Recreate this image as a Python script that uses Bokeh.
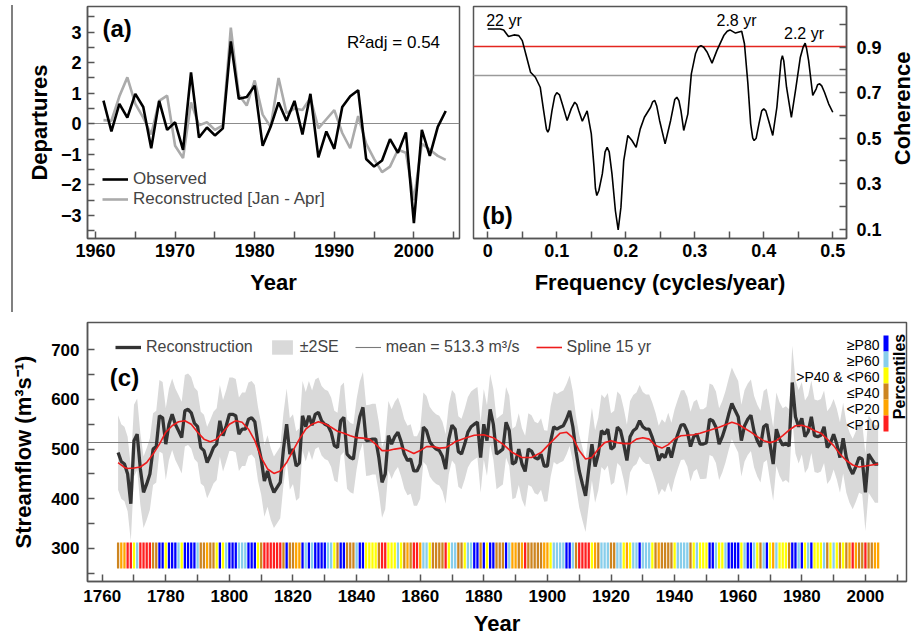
import math
import numpy as np
from bokeh.plotting import figure
from bokeh.models import FixedTicker, Legend, LegendItem, Label, BoxAnnotation, Div, Range1d
from bokeh.layouts import column, row
from bokeh.embed import file_html
from bokeh.resources import INLINE

FONT = "Liberation Sans"

# ---------------- panel (a) data ----------------
years_a = list(range(1961, 2005))
observed = [0.76, -0.25, 0.65, 0.2, 0.98, 0.55, -0.8, 0.75, -0.2, 0.05,
            -0.85, 1.68, -0.45, -0.12, -0.38, -0.15, 2.7, 0.82, 0.88, 1.25,
            -0.72, -0.1, 0.7, 0.1, 0.75, -0.35, 0.98, -1.1, -0.25, -0.82,
            0.55, 0.9, 1.1, -1.15, -1.4, -1.2, -0.5, -0.95, -0.28, -3.25,
            -0.2, -1.05, -0.1, 0.42]
reconstructed_a = [0.12, 0.1, 0.9, 1.52, 0.65, 0.2, -0.35, 0.75, 0.92, -0.72,
                   -1.12, 0.7, -0.05, 0.05, -0.2, -0.05, 3.15, 0.95, 0.6, 1.42,
                   0.3, -0.1, 1.5, 0.35, 0.5, 0.45, 0.85, -0.15, 0.15, 0.45,
                   -0.3, -0.8, 0.25, -0.65, -1.15, -1.58, -1.4, -0.85, -0.95, -2.5,
                   -0.65, -0.85, -1.05, -1.18]
r2_text = "R²adj = 0.54"

# ---------------- panel (b) data ----------------
freq = [0, 0.018, 0.023, 0.030, 0.038, 0.045, 0.050, 0.055, 0.062, 0.069,
        0.076, 0.081, 0.085, 0.087, 0.089, 0.093, 0.097, 0.100, 0.104, 0.108,
        0.115, 0.121, 0.126, 0.129, 0.132, 0.137, 0.144, 0.150, 0.154, 0.156,
        0.158, 0.161, 0.166, 0.170, 0.173, 0.176, 0.180, 0.185, 0.189, 0.193,
        0.197, 0.203, 0.209, 0.215, 0.221, 0.227, 0.236, 0.239, 0.242, 0.245,
        0.249, 0.257, 0.265, 0.271, 0.274, 0.277, 0.280, 0.284, 0.290, 0.295,
        0.301, 0.305, 0.309, 0.313, 0.318, 0.325, 0.332, 0.342, 0.347, 0.351,
        0.359, 0.368, 0.372, 0.377, 0.381, 0.384, 0.386, 0.389, 0.393, 0.397,
        0.400, 0.403, 0.407, 0.413, 0.419, 0.425, 0.427, 0.429, 0.433, 0.440,
        0.446, 0.453, 0.457, 0.460, 0.462, 0.465, 0.471, 0.476, 0.478, 0.481,
        0.484, 0.488, 0.494, 0.500]
coherence = [0.98, 0.98, 0.976, 0.947, 0.954, 0.951, 0.929, 0.871, 0.79, 0.768,
             0.724, 0.62, 0.54, 0.526, 0.54, 0.62, 0.685, 0.70, 0.69, 0.65,
             0.578, 0.63, 0.658, 0.648, 0.62, 0.575, 0.62, 0.52, 0.373, 0.28,
             0.248, 0.27, 0.343, 0.44, 0.46, 0.44, 0.343, 0.18, 0.097, 0.197,
             0.40, 0.512, 0.49, 0.46, 0.541, 0.592, 0.636, 0.66, 0.666, 0.64,
             0.578, 0.475, 0.578, 0.67, 0.68, 0.665, 0.62, 0.534, 0.607, 0.783,
             0.871, 0.90, 0.907, 0.90, 0.878, 0.83, 0.885, 0.951, 0.97, 0.976,
             0.962, 0.97, 0.915, 0.739, 0.563, 0.50, 0.49, 0.50, 0.563, 0.62,
             0.629, 0.62, 0.578, 0.512, 0.636, 0.84, 0.863, 0.84, 0.724, 0.592,
             0.71, 0.856, 0.90, 0.918, 0.895, 0.841, 0.688, 0.717, 0.735, 0.739,
             0.73, 0.702, 0.651, 0.614]
red_level = 0.905
gray_level = 0.776
peak_labels = ["22 yr", "2.8 yr", "2.2 yr"]

# ---------------- panel (c) data ----------------
recon = [493, 475, 470, 450, 390,
         517, 530, 460, 413, 430, 450, 500, 505, 567, 563,
         510, 550, 570, 550, 537, 523, 577, 580, 573, 552,
         545, 503, 497, 473, 487, 503, 510, 557, 527, 547,
         570, 570, 567, 530, 540, 540, 560, 563, 555, 510,
         480, 436, 456, 430, 413, 423, 433, 500, 550, 490,
         500, 466, 472, 567, 545, 567, 548, 570, 574, 557,
         550, 547, 534, 507, 503, 557, 564, 490, 483, 480,
         530, 565, 584, 517, 518, 520, 520, 483, 433, 450,
         527, 510, 525, 534, 515, 490, 477, 480, 456, 456,
         470, 544, 537, 515, 506, 500, 497, 485, 460, 520,
         548, 540, 495, 490, 510, 534, 545, 550, 554, 483,
         550, 517, 580, 550, 490, 495, 500, 554, 537, 470,
         474, 500, 470, 455, 500, 496, 483, 480, 490, 466,
         466, 515, 545, 540, 544, 547, 560, 577, 545, 495,
         456, 430, 406, 460, 510, 465, 490, 537, 530, 540,
         500, 505, 544, 537, 510, 477, 525, 537, 542, 557,
         545, 540, 540, 523, 503, 477, 490, 483, 503, 483,
         510, 530, 548, 549, 535, 505, 525, 530, 510, 510,
         513, 560, 557, 544, 510, 525, 545, 570, 592, 578,
         565, 517, 547, 560, 568, 535, 517, 505, 545, 550,
         510, 470, 540, 520, 508, 512, 506, 634, 565, 545,
         562, 525, 535, 565, 527, 525, 528, 545, 503, 512,
         530, 510, 483, 522, 483, 463, 450, 465, 483, 480,
         413, 490, 480, 470, 470]
recon_start = 1765
years_c = list(range(recon_start, recon_start + len(recon)))
# 2SE half-width of the band, one value per decade (1760s ... 2000s)
two_se_by_decade = [75, 72, 72, 72, 74, 72, 70, 70, 71, 70, 70, 71, 71,
                    72, 71, 73, 72, 70, 70, 72, 72, 74, 73, 71, 78]
spline_years = [1765, 1767, 1768, 1770, 1772, 1774, 1776, 1778, 1780, 1782, 1784, 1786,
                1788, 1790, 1792, 1794, 1796, 1798, 1800, 1802, 1804, 1806, 1808, 1810,
                1812, 1814, 1816, 1818, 1820, 1822, 1824, 1826, 1828, 1830, 1832, 1834,
                1836, 1838, 1840, 1842, 1844, 1846, 1848, 1850, 1852, 1854, 1856, 1858,
                1860, 1862, 1864, 1866, 1868, 1870, 1871, 1874, 1877, 1880, 1883, 1886,
                1889, 1892, 1895, 1898, 1901, 1904, 1906, 1908, 1910, 1912, 1914, 1916,
                1918, 1920, 1922, 1924, 1926, 1928, 1930, 1932, 1934, 1936, 1938, 1940,
                1942, 1944, 1946, 1948, 1950, 1952, 1954, 1956, 1958, 1960, 1962, 1964,
                1966, 1968, 1970, 1972, 1974, 1976, 1978, 1980, 1982, 1984, 1986, 1988,
                1990, 1992, 1994, 1996, 1998, 2000, 2002, 2004]
spline_vals = [473, 463, 461, 462, 464, 473, 490, 510, 534, 547, 555, 557,
               550, 534, 520, 515, 520, 534, 550, 557, 554, 540, 517, 483,
               460, 451, 456, 473, 497, 520, 540, 550, 555, 551, 544, 536,
               532, 527, 523, 522, 520, 510, 497, 497, 500, 502, 497, 491,
               497, 505, 505, 502, 503, 510, 515, 522, 528, 529, 523, 510,
               493, 483, 483, 493, 513, 532, 534, 523, 497, 480, 483, 500,
               513, 517, 513, 511, 511, 520, 523, 520, 507, 502, 509, 521,
               527, 528, 529, 532, 536, 540, 544, 549, 554, 550, 542, 534,
               525, 517, 513, 517, 527, 538, 547, 548, 544, 537, 532, 520,
               507, 490, 477, 468, 464, 466, 468, 470]
mean_flow = 513.3
pct_labels = ["≥P80", "≥P60", ">P40 & <P60", "≤P40", "<P20", "<P10"]
pct_colors = ["#0000ff", "#87ceeb", "#ffff00", "#cd8520", "#ffa500", "#ff1f1f"]

# ---------------- helpers ----------------
def mapper(x0, x1, y0, y1, L, R, T, B):
    fx = lambda px: x0 + (px - L) / (R - L) * (x1 - x0)
    fy = lambda py: y1 - (py - T) / (B - T) * (y1 - y0)
    return fx, fy


def style(p, tick_font):
    p.outline_line_color = "#555555"
    p.outline_line_width = 1.5
    p.xgrid.grid_line_color = None
    p.ygrid.grid_line_color = None
    p.background_fill_color = "white"
    p.border_fill_color = "white"
    for ax in p.axis:
        ax.axis_line_color = "#555555"
        ax.axis_line_width = 1.5
        ax.major_tick_line_color = "#555555"
        ax.minor_tick_line_color = "#555555"
        ax.major_tick_line_width = 1.5
        ax.minor_tick_line_width = 1.5
        ax.major_tick_in = 7
        ax.major_tick_out = 0
        ax.minor_tick_in = 7
        ax.minor_tick_out = 0
        ax.major_label_text_font = FONT
        ax.major_label_text_font_style = "bold"
        ax.major_label_text_font_size = tick_font
        ax.major_label_text_color = "black"
        ax.axis_label_text_font = FONT
        ax.axis_label_text_font_style = "bold"
        ax.axis_label_text_font_size = "22px"
        ax.axis_label_text_color = "black"


def label(p, x, y, text, size, bold=False, align="center", angle=0.0):
    p.add_layout(Label(x=x, y=y, text=text, text_font=FONT, text_font_size=size,
                       text_font_style="bold" if bold else "normal", text_align=align,
                       text_baseline="middle", text_color="black", angle=angle))

# ---------------- panel (a) ----------------
pa = figure(width=452, height=312, x_range=Range1d(1958.995, 2005.73),
            y_range=Range1d(-3.754, 3.84), output_backend="svg", toolbar_location=None,
            min_border_left=73, min_border_right=7, min_border_top=6, min_border_bottom=74)
style(pa, "18px")
pa.hspan(y=[0], line_color="#8c8c8c", line_width=1)
r_rec = pa.line(years_a, reconstructed_a, line_color="#ababab", line_width=2.6)
r_obs = pa.line(years_a, observed, line_color="black", line_width=2.6)
pa.xaxis.ticker = FixedTicker(ticks=[1960, 1970, 1980, 1990, 2000],
                              minor_ticks=[1965, 1975, 1985, 1995, 2005])
pa.yaxis.ticker = FixedTicker(ticks=[-3, -2, -1, 0, 1, 2, 3],
                              minor_ticks=[-3.5, -2.5, -1.5, -0.5, 0.5, 1.5, 2.5, 3.5])
pa.xaxis.axis_label = "Year"
pa.yaxis.axis_label = "Departures"
pa.xaxis.major_label_standoff = 5
pa.xaxis.axis_label_standoff = 10
pa.yaxis.major_label_standoff = 6
pa.yaxis.axis_label_standoff = 6
leg_a = Legend(items=[LegendItem(label="Observed", renderers=[r_obs]),
                      LegendItem(label="Reconstructed [Jan - Apr]", renderers=[r_rec])],
               location=(15, 29), border_line_color=None, background_fill_alpha=0,
               padding=0, margin=0, spacing=0, label_standoff=5, glyph_width=26,
               glyph_height=18, label_height=18, label_text_font=FONT,
               label_text_font_size="17px")
pa.add_layout(leg_a)
fax, fay = mapper(1958.995, 2005.73, -3.754, 3.84, 87, 459, 6, 238)
label(pa, fax(116.7), fay(28.3), "(a)", "24px", bold=True)
label(pa, fax(393), fay(41.7), r2_text, "17px")

# ---------------- panel (b) ----------------
pb = figure(width=424, height=312, x_range=Range1d(-0.0207, 0.5199),
            y_range=Range1d(0.0591, 1.0789), y_axis_location="right",
            output_backend="svg", toolbar_location=None,
            min_border_left=7, min_border_right=44, min_border_top=6, min_border_bottom=74)
style(pb, "18px")
pb.hspan(y=[gray_level], line_color="#9a9a9a", line_width=1.3)
pb.hspan(y=[red_level], line_color="#e3261f", line_width=1.3)
pb.line(freq, coherence, line_color="black", line_width=1.6)
xt = [0, 0.1, 0.2, 0.3, 0.4, 0.5]
pb.xaxis.ticker = FixedTicker(ticks=xt, minor_ticks=[0.05, 0.15, 0.25, 0.35, 0.45])
pb.xaxis.major_label_overrides = {0: "0", 0.1: "0.1", 0.2: "0.2", 0.3: "0.3", 0.4: "0.4", 0.5: "0.5"}
yt = [0.1, 0.3, 0.5, 0.7, 0.9]
pb.yaxis.ticker = FixedTicker(ticks=yt, minor_ticks=[0.2, 0.4, 0.6, 0.8, 1.0])
pb.yaxis.major_label_overrides = {0.1: "0.1", 0.3: "0.3", 0.5: "0.5", 0.7: "0.7", 0.9: "0.9"}
pb.xaxis.axis_label = "Frequency (cycles/year)"
pb.xaxis.major_label_standoff = 5
pb.xaxis.axis_label_standoff = 10
pb.yaxis.major_label_standoff = 10
fbx, fby = mapper(-0.0207, 0.5199, 0.0591, 1.0789, 473, 846, 6, 238)
label(pb, fbx(503.5), fby(20), peak_labels[0], "16px")
label(pb, fbx(736), fby(20), peak_labels[1], "16px")
label(pb, fbx(803.5), fby(33), peak_labels[2], "16px")
label(pb, fbx(497), fby(215), "(b)", "24px", bold=True)

# narrow strip holding the right-hand "Coherence" title (reads bottom-to-top)
pt = figure(width=24, height=312, x_range=Range1d(0, 1), y_range=Range1d(0, 312),
            output_backend="svg", toolbar_location=None,
            min_border_left=0, min_border_right=0, min_border_top=0, min_border_bottom=0)
pt.axis.visible = False
pt.xgrid.grid_line_color = None
pt.ygrid.grid_line_color = None
pt.outline_line_color = None
label(pt, 0.5, 312 - 137, "Coherence", "22px", bold=True, angle=math.pi / 2)

# ---------------- panel (c) ----------------
rv = np.array(recon, dtype=float)
p10, p20, p40, p60, p80 = np.percentile(rv, [10, 20, 40, 60, 80])


def pct_class(v):
    if v < p10:
        return 5
    if v < p20:
        return 4
    if v <= p40:
        return 3
    if v < p60:
        return 2
    if v < p80:
        return 1
    return 0


bar_colors = [pct_colors[pct_class(v)] for v in recon]
two_se = np.array([two_se_by_decade[y // 10 - 176] for y in years_c], dtype=float)
upper = rv + two_se
lower = rv - two_se

pc = figure(width=914, height=328, x_range=Range1d(1755.38, 2012.92),
            y_range=Range1d(233.6, 754.7), output_backend="svg", toolbar_location=None,
            min_border_left=87, min_border_right=8, min_border_top=10, min_border_bottom=59)
style(pc, "17px")
r_band = pc.varea(x=years_c, y1=lower, y2=upper, fill_color="#d9d9d9")
pc.hspan(y=[mean_flow], line_color="#7a7a7a", line_width=1.1)
r_mean = pc.line(x=[years_c[0], years_c[-1]], y=[mean_flow, mean_flow],
                 line_color="#7a7a7a", line_width=1.1)
r_recon = pc.line(years_c, recon, line_color="#333333", line_width=3.3)
r_spline = pc.line(spline_years, spline_vals, line_color="#ee1c1c", line_width=1.6)
pc.vbar(x=years_c, width=0.72, bottom=260, top=312, fill_color=bar_colors, line_color=None)
pc.xaxis.ticker = FixedTicker(ticks=list(range(1760, 2001, 20)),
                              minor_ticks=list(range(1770, 2011, 20)))
pc.yaxis.ticker = FixedTicker(ticks=[300, 400, 500, 600, 700],
                              minor_ticks=[250, 350, 450, 550, 650])
pc.xaxis.axis_label = "Year"
pc.yaxis.axis_label = "Streamflow (m³s⁻¹)"
pc.xaxis.major_label_standoff = 8
pc.xaxis.axis_label_standoff = 6
pc.yaxis.major_label_standoff = 8
pc.yaxis.axis_label_standoff = 12
leg_c = Legend(items=[LegendItem(label="Reconstruction", renderers=[r_recon]),
                      LegendItem(label="±2SE", renderers=[r_band]),
                      LegendItem(label=f"mean = {mean_flow} m³/s", renderers=[r_mean]),
                      LegendItem(label="Spline 15 yr", renderers=[r_spline])],
               location=(28, 225), orientation="horizontal", border_line_color=None,
               background_fill_alpha=0, padding=0, margin=0, spacing=16,
               label_standoff=5, glyph_width=26, glyph_height=18, label_height=18,
               label_text_font=FONT, label_text_font_size="16px")
pc.add_layout(leg_c)
fcx, fcy = mapper(1755.38, 2012.92, 233.6, 754.7, 87, 906, 322, 581)
label(pc, fcx(124), fcy(377), "(c)", "24px", bold=True)
for i, (txt, col) in enumerate(zip(pct_labels, pct_colors)):
    top_px = 335 + 16 * i
    pc.add_layout(BoxAnnotation(left=fcx(883), right=fcx(888), top=fcy(top_px),
                                bottom=fcy(top_px + 16), fill_color=col, fill_alpha=1,
                                line_color=None))
    label(pc, fcx(879), fcy(top_px + 9), txt, "14px", align="right")
label(pc, fcx(898.5), fcy(376), "Percentiles", "16px", bold=True, angle=math.pi / 2)

# ---------------- layout ----------------
sep = Div(text='<div style="position:relative;width:14px;height:312px;">'
               '<div style="position:absolute;left:11px;top:5px;width:2px;height:307px;'
               'background:#808080;"></div></div>',
          width=14, height=312, margin=(0, 0, 0, 0))
layout = column(row(sep, pa, pb, pt, spacing=0), pc, spacing=0)
open("out.html", "w").write(file_html(layout, INLINE))
